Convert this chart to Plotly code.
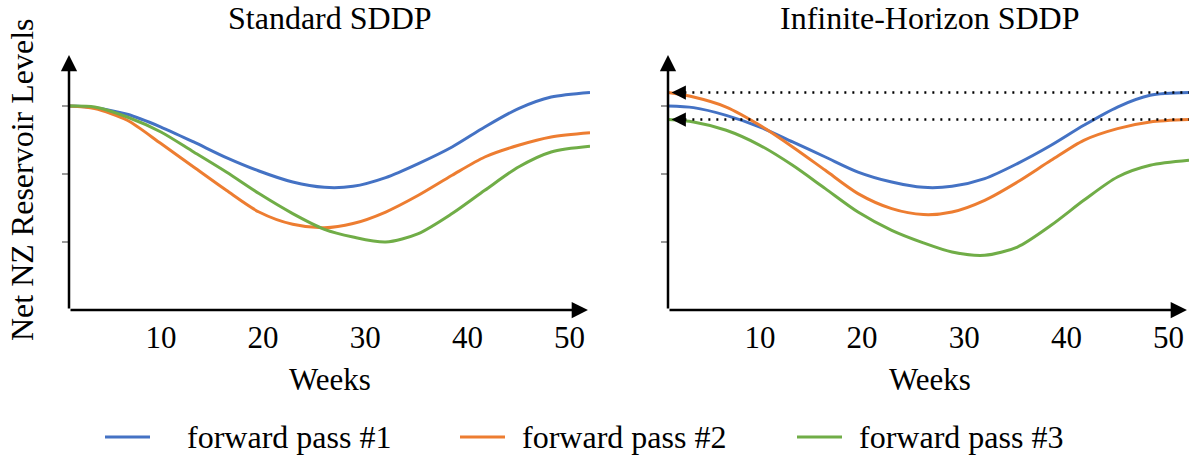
import plotly.graph_objects as go

# ---- data ----
weeks = [1, 3.5, 6.7, 10, 13.2, 16.4, 19.6, 22.9, 26, 28.8, 32, 35.2, 38.5, 41.7, 45, 48.2, 52]

std_pass1 = [3.00, 2.976, 2.878, 2.691, 2.471, 2.241, 2.044, 1.882, 1.804, 1.819, 1.947, 2.153, 2.397, 2.691, 2.962, 3.132, 3.200]
std_pass2 = [3.00, 2.962, 2.790, 2.447, 2.103, 1.760, 1.441, 1.260, 1.209, 1.271, 1.441, 1.687, 1.981, 2.250, 2.422, 2.544, 2.606]
std_pass3 = [3.00, 2.985, 2.838, 2.618, 2.324, 2.029, 1.712, 1.418, 1.187, 1.074, 1.000, 1.124, 1.418, 1.760, 2.103, 2.324, 2.407]

inf_pass1 = [3.00, 2.976, 2.863, 2.691, 2.471, 2.250, 2.029, 1.882, 1.804, 1.819, 1.932, 2.153, 2.422, 2.716, 2.985, 3.157, 3.197]
inf_pass2 = [3.197, 3.132, 2.985, 2.716, 2.397, 2.054, 1.712, 1.491, 1.404, 1.441, 1.613, 1.882, 2.201, 2.496, 2.668, 2.765, 2.800]
inf_pass3 = [2.800, 2.765, 2.643, 2.422, 2.128, 1.785, 1.441, 1.172, 0.988, 0.853, 0.804, 0.926, 1.246, 1.613, 1.956, 2.128, 2.201]

series_names = ["forward pass #1", "forward pass #2", "forward pass #3"]
colors = ["#4472C4", "#ED7D31", "#70AD47"]
x_ticks = [10, 20, 30, 40, 50]
y_ticks = [1, 2, 3]
panel_titles = ["Standard SDDP", "Infinite-Horizon SDDP"]
x_title = "Weeks"
y_title = "Net NZ Reservoir Levels"

W, H = 1199, 461
FONT = "Liberation Serif"
FS = 32
FS_SMALL = 31

fig = go.Figure()

panels = [("x", "y", [std_pass1, std_pass2, std_pass3]),
          ("x2", "y2", [inf_pass1, inf_pass2, inf_pass3])]

for xa, ya, data in panels:
    for name, col, vals in zip(series_names, colors, data):
        fig.add_trace(go.Scatter(
            x=weeks, y=vals, mode="lines", name=name, xaxis=xa, yaxis=ya,
            line=dict(color=col, width=3, shape="spline", smoothing=0.8),
            showlegend=False, hoverinfo="skip"))

# dotted carry-over lines in the infinite-horizon panel
for lvl in [inf_pass1[-1], inf_pass2[-1]]:
    fig.add_trace(go.Scatter(
        x=[2.6, weeks[-1]], y=[lvl, lvl], mode="lines", xaxis="x2", yaxis="y2",
        line=dict(color="black", width=2.5, dash="2px,6px"),
        showlegend=False, hoverinfo="skip"))

px = lambda p: p / W
py = lambda p: 1 - p / H

x_dom1 = [px(69), px(590)]
x_dom2 = [px(668), px(1189)]
y_dom = [py(310), py(55)]

axis_common = dict(range=[1, 52], showgrid=False, zeroline=False, showline=False,
                   tickvals=x_ticks, ticks="", tickfont=dict(family=FONT, size=FS_SMALL, color="black"),
                   ticklabelstandoff=6)
yaxis_common = dict(range=[0, 3.75], showgrid=False, zeroline=False, showline=False,
                    tickvals=y_ticks, ticks="outside", ticklen=6, tickwidth=1.5, tickcolor="#9a9a9a",
                    showticklabels=False)

fig.update_layout(
    width=W, height=H,
    margin=dict(l=0, r=0, t=0, b=0),
    paper_bgcolor="white", plot_bgcolor="white",
    showlegend=False,
    xaxis=dict(domain=x_dom1, anchor="y", **axis_common),
    yaxis=dict(domain=y_dom, anchor="x", **yaxis_common),
    xaxis2=dict(domain=x_dom2, anchor="y2", **axis_common),
    yaxis2=dict(domain=y_dom, anchor="x2", **yaxis_common),
)

ann = []
# axis arrows
for xa, ya in [("x", "y"), ("x2", "y2")]:
    ann.append(dict(x=51.8, y=0, ax=1, ay=0, xref=xa, yref=ya, axref=xa, ayref=ya,
                    showarrow=True, arrowhead=2, arrowsize=1.3, arrowwidth=2.5,
                    arrowcolor="black", text=""))
    ann.append(dict(x=1, y=3.75, ax=1, ay=0, xref=xa, yref=ya, axref=xa, ayref=ya,
                    showarrow=True, arrowhead=2, arrowsize=1.3, arrowwidth=2.5,
                    arrowcolor="black", text=""))
# left-pointing arrow heads on dotted lines
for lvl in [inf_pass1[-1], inf_pass2[-1]]:
    ann.append(dict(x=1.35, y=lvl, ax=16, ay=0, xref="x2", yref="y2",
                    showarrow=True, arrowhead=2, arrowsize=1.3, arrowwidth=2.2,
                    arrowcolor="black", text=""))

# titles
for t, cx in zip(panel_titles, [330, 930]):
    ann.append(dict(x=px(cx), y=py(18), xref="paper", yref="paper", text=t, showarrow=False,
                    font=dict(family=FONT, size=FS, color="black"), xanchor="center", yanchor="middle"))
for cx in [330, 930]:
    ann.append(dict(x=px(cx), y=py(379), xref="paper", yref="paper", text=x_title, showarrow=False,
                    font=dict(family=FONT, size=FS_SMALL, color="black"), xanchor="center", yanchor="middle"))
ann.append(dict(x=px(22), y=py(180), xref="paper", yref="paper", text=y_title, showarrow=False,
                textangle=-90, font=dict(family=FONT, size=FS, color="black"),
                xanchor="center", yanchor="middle"))

# legend (manual)
shapes = []
leg_line_x = [105, 460, 797]
leg_text_x = [185, 520, 857]
leg_y = 437
for name, col, lx, tx in zip(series_names, colors, leg_line_x, leg_text_x):
    shapes.append(dict(type="line", xref="paper", yref="paper",
                       x0=px(lx), x1=px(lx + 45), y0=py(leg_y), y1=py(leg_y),
                       line=dict(color=col, width=3)))
    ann.append(dict(x=px(tx), y=py(leg_y), xref="paper", yref="paper", text=name, showarrow=False,
                    font=dict(family=FONT, size=FS, color="black"), xanchor="left", yanchor="middle"))

fig.update_layout(annotations=ann, shapes=shapes)
fig.write_html("out.html")
